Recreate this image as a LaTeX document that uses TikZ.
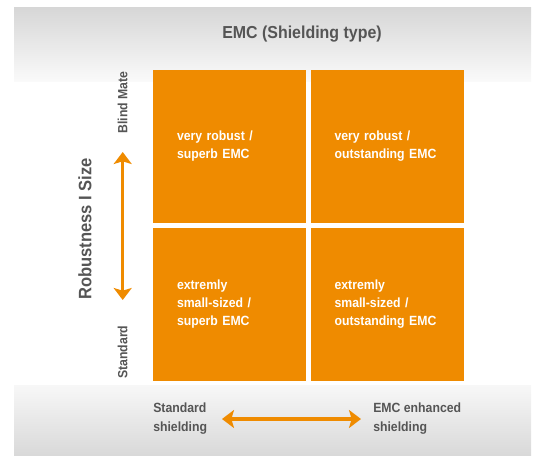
\documentclass[tikz,border=0pt]{standalone}
\usepackage{fontspec}
\setmainfont{Liberation Sans}[FakeStretch=0.92]
\usepackage{tikz}
\usetikzlibrary{
    arrows.meta,
    positioning
}

\definecolor{emcorange}{RGB}{239,139,0}
\definecolor{labelgray}{RGB}{85,85,85}

\begin{document}
\begin{tikzpicture}[x=0.75pt, y=0.75pt,
    font=\bfseries\fontsize{10}{13.5}\selectfont,
    node distance=3pt,
    cell/.style={
        rectangle,
        fill=emcorange,
        inner sep=0pt,
        minimum width=114.75pt,
        minimum height=114.75pt,
        text width=78.75pt,
        align=left,
        text=white
    },
    title/.style={
        font=\bfseries\fontsize{13}{15}\selectfont,
        text=labelgray,
        inner sep=0pt
    },
    axislabel/.style={
        font=\bfseries\fontsize{13.5}{16}\selectfont,
        text=labelgray,
        inner sep=0pt
    },
    endlabel/.style={
        font=\bfseries\fontsize{10}{14.25}\selectfont,
        text=labelgray,
        inner sep=0pt,
        align=left
    },
    dblarrow/.style={
        {Stealth[length=9pt,width=13.5pt,inset=2pt]}-{Stealth[length=9pt,width=13.5pt,inset=2pt]},
        line width=2.6pt,
        draw=emcorange
    }
]
\useasboundingbox (0,0) rectangle (536,-455);

% ===== Background bands =====
\shade[top color=black!16, bottom color=black!2] (14,-7) rectangle (531,-81);
\shade[top color=black!3, bottom color=black!15] (14,-385) rectangle (531,-455);

% ===== Title =====
\node[title] (title) at (302,-34) {EMC (Shielding type)};

% ===== Matrix of cells =====
\node[cell] (tl) at (229.5,-146.5) {very robust /\\superb EMC};
\node[cell, right=of tl] (tr) {very robust /\\outstanding EMC};
\node[cell, below=of tl] (bl) {extremly\\small-sized /\\superb EMC};
\node[cell, below=of tr] (br) {extremly\\small-sized /\\outstanding EMC};

% ===== Vertical axis =====
\node[axislabel, rotate=90] (robust) at (85,-229) {Robustness I Size};
\node[endlabel, rotate=90, anchor=east] (blind) at (122.5,-71) {Blind Mate};
\node[endlabel, rotate=90, anchor=west] (stdv) at (122.5,-379) {Standard};
\coordinate (vtop) at (122.7,-152);
\coordinate (vbot) at (122.7,-300);
\draw[dblarrow] (vtop) -- (vbot);

% ===== Horizontal axis =====
\node[endlabel, anchor=north west] (stdshield) at (153,-403) {Standard\\shielding};
\node[endlabel, anchor=north west] (emcshield) at (373,-403) {EMC enhanced\\shielding};
\coordinate (hleft) at (222,-419);
\coordinate (hright) at (361,-419);
\draw[dblarrow] (hleft) -- (hright);

\end{tikzpicture}
\end{document}
